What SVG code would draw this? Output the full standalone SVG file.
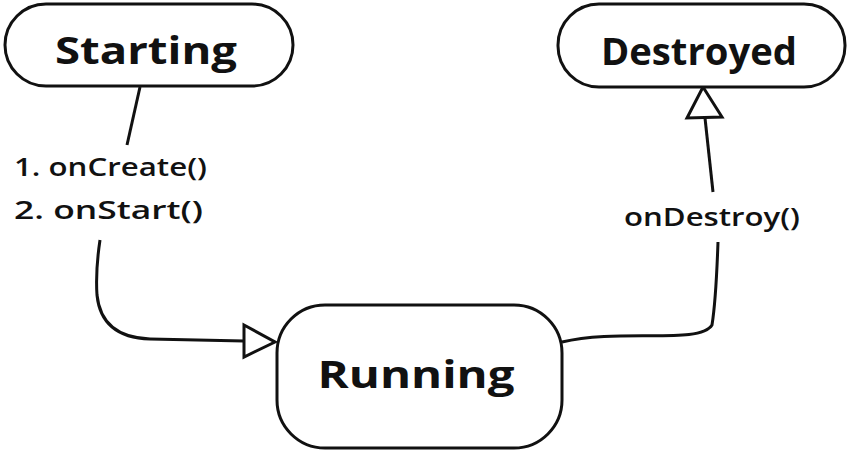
<svg xmlns="http://www.w3.org/2000/svg" width="851" height="454" viewBox="0 0 851 454">
<defs>
<style>
.node{fill:#fff;stroke:#111;stroke-width:3}
.title{font-family:"Open Sans","DejaVu Sans",sans-serif;font-weight:bold;font-size:38px;fill:#111;text-anchor:middle}
.lbl{font-family:"Open Sans","DejaVu Sans",sans-serif;font-weight:600;font-size:25px;fill:#111}
.edge{fill:none;stroke:#111;stroke-width:3}
.head{fill:#fff;stroke:#111;stroke-width:3;stroke-linejoin:miter}
</style>
</defs>
<rect width="851" height="454" fill="#fff"/>
<g id="connectors">
<path class="edge" d="M140 87 L127 145"/>
<path class="edge" d="M100 240 C97 260 96 280 97 295 C100 325 120 338 150 339 L244 341"/>
<polygon class="head" points="244,325 275,342 244,357"/>
<path class="edge" d="M562 342 C620 328 700 345 712 325 C716 300 717 270 718 242"/>
<path class="edge" d="M713 192 L705 118"/>
<polygon class="head" points="687,118 703,87 722,117"/>
</g>
<g id="label-start">
<text class="lbl" x="14" y="176" textLength="193" lengthAdjust="spacingAndGlyphs">1. onCreate()</text>
<text class="lbl" x="14" y="219" textLength="189" lengthAdjust="spacingAndGlyphs">2. onStart()</text>
</g>
<g id="label-destroy">
<text class="lbl" x="624" y="226" textLength="176" lengthAdjust="spacingAndGlyphs">onDestroy()</text>
</g>
<g id="starting">
<rect class="node" x="5" y="4" width="288" height="82" rx="41"/>
<text class="title" x="146" y="64" textLength="182" lengthAdjust="spacingAndGlyphs">Starting</text>
</g>
<g id="destroyed">
<rect class="node" x="558" y="4" width="287" height="83" rx="41"/>
<text class="title" x="699" y="65" textLength="196" lengthAdjust="spacingAndGlyphs">Destroyed</text>
</g>
<g id="running">
<rect class="node" x="277" y="305" width="285" height="143" rx="48"/>
<text class="title" x="416" y="388" textLength="197" lengthAdjust="spacingAndGlyphs">Running</text>
</g>
</svg>
